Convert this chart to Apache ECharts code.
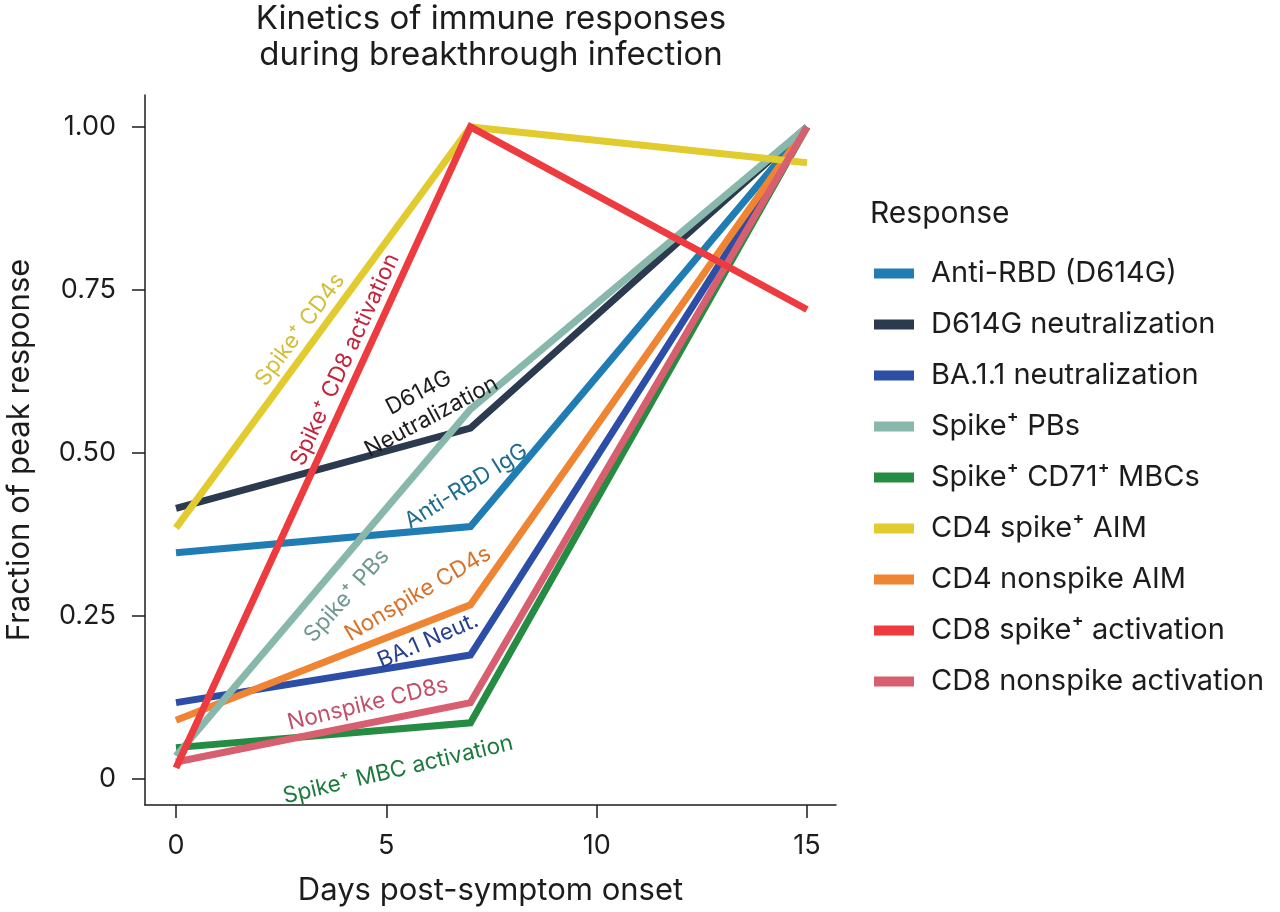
<!DOCTYPE html>
<html>
<head>
<meta charset="utf-8">
<script src="https://cdn.jsdelivr.net/npm/echarts@6/dist/echarts.min.js"></script>
<style>
  html, body { margin: 0; padding: 0; background: #fff; }
  #chart { width: 1280px; height: 912px; }
</style>
</head>
<body>
<div id="chart"></div>
<script>
// days post-symptom onset
const days = [0, 7, 15];

// fraction of peak response
const antiRBD     = [0.347, 0.387, 1.0];
const d614gNeut   = [0.415, 0.538, 1.0];
const ba11Neut    = [0.117, 0.190, 1.0];
const spikePBs    = [0.035, 0.567, 1.0];
const spikeMBCs   = [0.048, 0.086, 1.0];
const cd4Spike    = [0.385, 1.0, 0.945];
const cd4Nonspike = [0.090, 0.267, 1.0];
const cd8Spike    = [0.017, 1.0, 0.720];
const cd8Nonspike = [0.026, 0.117, 1.0];

const xTicks = [0, 5, 10, 15];
const yTicks = [0, 0.25, 0.5, 0.75, 1];
const yTickLabels = ['0', '0.25', '0.50', '0.75', '1.00'];

const FONT = 'Inter, "DejaVu Sans", sans-serif';
const INK = '#1c1c1c';

// legend order
const responses = [
  { name: 'Anti-RBD (D614G)',        data: antiRBD,     color: '#1f7db3', z: 3 },
  { name: 'D614G neutralization',    data: d614gNeut,   color: '#2b3a4f', z: 2 },
  { name: 'BA.1.1 neutralization',   data: ba11Neut,    color: '#2d4ea6', z: 4 },
  { name: 'Spike⁺ PBs',              data: spikePBs,    color: '#88b8ab', z: 6 },
  { name: 'Spike⁺ CD71⁺ MBCs',       data: spikeMBCs,   color: '#268c43', z: 1 },
  { name: 'CD4 spike⁺ AIM',          data: cd4Spike,    color: '#e2cb2e', z: 7 },
  { name: 'CD4 nonspike AIM',        data: cd4Nonspike, color: '#ef8533', z: 5 },
  { name: 'CD8 spike⁺ activation',   data: cd8Spike,    color: '#ee3b40', z: 9 },
  { name: 'CD8 nonspike activation', data: cd8Nonspike, color: '#d85f70', z: 8 }
];

// in-plot labels: [day, fraction] of text centre, angle in degrees
const notes = [
  { text: 'Spike⁺ CD4s',            at: [2.95, 0.689], angle: 53.5, color: '#d2bf35' },
  { text: 'Spike⁺ CD8 activation',  at: [4.02, 0.643], angle: 65.4, color: '#c4243c' },
  { text: 'D614G\nNeutralization',  at: [5.92, 0.574], angle: 28,   color: INK },
  { text: 'Anti-RBD IgG',           at: [6.90, 0.449], angle: 32,   color: '#1d6d8c' },
  { text: 'Spike⁺ PBs',             at: [4.06, 0.281], angle: 48.5, color: '#6f9990' },
  { text: 'Nonspike CD4s',          at: [5.75, 0.284], angle: 30.5, color: '#d8722a' },
  { text: 'BA.1 Neut.',             at: [5.99, 0.212], angle: 23.5, color: '#26408f' },
  { text: 'Nonspike CD8s',          at: [4.56, 0.115], angle: 13.6, color: '#c24f68' },
  { text: 'Spike⁺ MBC activation',  at: [5.28, 0.014], angle: 13.3, color: '#1d7a3e' }
];

const chart = echarts.init(document.getElementById('chart'));

const option = {
  backgroundColor: '#fff',
  animation: false,
  title: {
    text: 'Response',
    left: 865,
    top: 194,
    textStyle: { fontFamily: FONT, fontSize: 30, fontWeight: 'normal', color: INK }
  },
  legend: {
    orient: 'vertical',
    left: 869,
    top: 254,
    icon: 'rect',
    itemWidth: 40,
    itemHeight: 10,
    itemGap: 22,
    textStyle: { fontFamily: FONT, fontSize: 29, lineHeight: 29, color: INK, padding: [0, 0, 0, 12] },
    data: responses.map(r => r.name)
  },
  grid: { left: 145, right: 444, top: 95, bottom: 107, outerBoundsMode: 'none' },
  xAxis: {
    type: 'value',
    min: -0.737,
    max: 15.69,
    name: 'Days post-symptom onset',
    nameLocation: 'middle',
    nameGap: 70,
    nameMoveOverlap: false,
    nameTextStyle: { fontFamily: FONT, fontSize: 31, color: INK },
    axisLine: { onZero: false, lineStyle: { color: INK, width: 1.5 } },
    axisTick: { show: true, length: 13, lineStyle: { color: INK, width: 1.5 }, customValues: xTicks },
    axisLabel: { fontFamily: FONT, fontSize: 27, color: INK, margin: 27, customValues: xTicks },
    splitLine: { show: false }
  },
  yAxis: {
    type: 'value',
    min: -0.04,
    max: 1.049,
    name: 'Fraction of peak response',
    nameLocation: 'middle',
    nameGap: 110,
    nameMoveOverlap: false,
    nameTextStyle: { fontFamily: FONT, fontSize: 31, color: INK },
    axisLine: { show: true, onZero: false, lineStyle: { color: INK, width: 1.5 } },
    axisTick: { show: true, length: 13, lineStyle: { color: INK, width: 1.5 }, customValues: yTicks },
    axisLabel: {
      fontFamily: FONT, fontSize: 27, color: INK, margin: 29,
      customValues: yTicks,
      formatter: v => yTickLabels[yTicks.indexOf(v)] !== undefined ? yTickLabels[yTicks.indexOf(v)] : ''
    },
    splitLine: { show: false }
  },
  series: responses.map(r => ({
    name: r.name,
    type: 'line',
    data: days.map((d, i) => [d, r.data[i]]),
    showSymbol: false,
    symbol: 'none',
    z: r.z,
    itemStyle: { color: r.color },
    lineStyle: { color: r.color, width: 7, join: 'miter' },
    emphasis: { disabled: true }
  }))
};

chart.setOption(option);

// title and line labels placed in data coordinates
const graphics = [{
  type: 'text',
  x: 491,
  y: 1,
  style: {
    text: 'Kinetics of immune responses\nduring breakthrough infection',
    fontFamily: FONT, fontSize: 33, lineHeight: 36,
    fill: INK, align: 'center', verticalAlign: 'top'
  }
}];
notes.forEach(n => {
  const p = chart.convertToPixel({ gridIndex: 0 }, n.at);
  graphics.push({
    type: 'text',
    x: p[0],
    y: p[1],
    rotation: n.angle * Math.PI / 180,
    z: 20,
    style: {
      text: n.text,
      fontFamily: FONT, fontSize: 22.5, lineHeight: 27,
      fill: n.color, align: 'center', verticalAlign: 'middle'
    }
  });
});
chart.setOption({ graphic: graphics });
</script>
</body>
</html>
